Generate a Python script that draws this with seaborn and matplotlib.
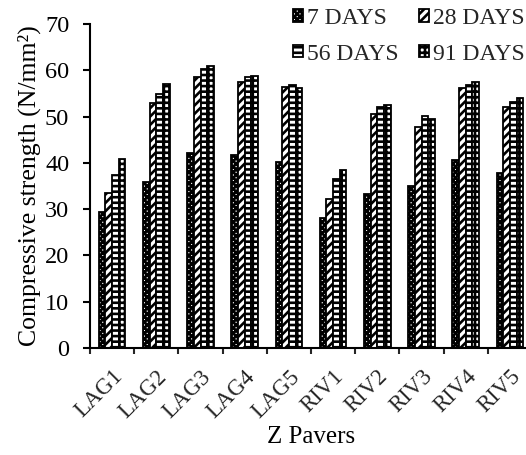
import matplotlib
matplotlib.use("Agg")
import matplotlib.pyplot as plt
import seaborn as sns
import pandas as pd
from matplotlib.patches import Patch
from matplotlib.ticker import FixedLocator, NullFormatter

categories = ["LAG1", "LAG2", "LAG3", "LAG4", "LAG5",
              "RIV1", "RIV2", "RIV3", "RIV4", "RIV5"]
days_7 = [29.4, 35.8, 42.2, 41.6, 40.2, 28.0, 33.2, 35.0, 40.6, 37.9]
days_28 = [33.5, 52.9, 58.6, 57.5, 56.3, 32.1, 50.5, 47.7, 56.2, 52.0]
days_56 = [37.4, 54.9, 60.3, 58.5, 56.8, 36.5, 52.1, 50.2, 56.8, 53.2]
days_91 = [40.9, 57.0, 61.0, 58.8, 56.1, 38.5, 52.4, 49.4, 57.4, 54.1]
series_names = ["7 DAYS", "28 DAYS", "56 DAYS", "91 DAYS"]
series_values = [days_7, days_28, days_56, days_91]

rows = []
for name, vals in zip(series_names, series_values):
    for c, v in zip(categories, vals):
        rows.append({"Paver": c, "Age": name, "Strength": v})
df = pd.DataFrame(rows)

sns.set_theme(style="ticks")
plt.rcParams["font.family"] = ["Liberation Serif", "DejaVu Serif"]
plt.rcParams["hatch.linewidth"] = 1.9
plt.rcParams["hatch.color"] = "black"

fig = plt.figure(figsize=(5.26, 4.55), dpi=100)
ax = fig.add_axes([90 / 526, 1 - 348 / 455, 442 / 526, (348 - 24) / 455])

sns.barplot(data=df, x="Paver", y="Strength", hue="Age", order=categories,
            hue_order=series_names, palette=["white"] * 4, width=0.6,
            edgecolor="black", linewidth=1.3, errorbar=None, legend=False, ax=ax)

hatches = ["xxxxxx", "////", "---", "+++"]
for cont, h in zip(ax.containers, hatches):
    for bar in cont:
        bar.set_hatch(h)
        bar.set_edgecolor("black")

ax.set_ylim(0, 70)
ax.set_xlim(-0.5, len(categories) - 0.5)
ax.set_yticks(range(0, 71, 10))
ax.tick_params(axis="y", labelsize=17.5, length=5, width=1.5, direction="out",
               colors="black", pad=10)
ax.tick_params(axis="x", which="major", length=0, labelsize=16.5, pad=13)
ax.xaxis.set_minor_locator(FixedLocator([i - 0.5 for i in range(len(categories) + 1)]))
ax.xaxis.set_minor_formatter(NullFormatter())
ax.tick_params(axis="x", which="minor", length=4.5, width=1.5, direction="out")
for lab in ax.get_xticklabels():
    lab.set_rotation(45)
    lab.set_ha("right")
    lab.set_rotation_mode("anchor")

for side in ["top", "right"]:
    ax.spines[side].set_visible(False)
for side in ["left", "bottom"]:
    ax.spines[side].set_linewidth(1.5)
    ax.spines[side].set_color("black")

ax.set_xlabel("Z Pavers", fontsize=18, color="black", labelpad=3)
ax.set_ylabel("Compressive strength (N/mm²)", fontsize=18.5, color="black", labelpad=3)

handles = [Patch(facecolor="white", edgecolor="black", hatch=h, linewidth=1.3) for h in hatches]
order = [0, 2, 1, 3]
leg = ax.legend([handles[i] for i in order], [series_names[i] for i in order],
                ncol=2, loc="upper left",
                bbox_to_anchor=(293 / 526, 1 - 8 / 455), bbox_transform=fig.transFigure,
                frameon=False, fontsize=17, handlelength=0.42, handleheight=0.42,
                handletextpad=0.17, columnspacing=0.85, labelspacing=0.62,
                borderpad=0, borderaxespad=0)

fig.savefig("out.png", dpi=100)
